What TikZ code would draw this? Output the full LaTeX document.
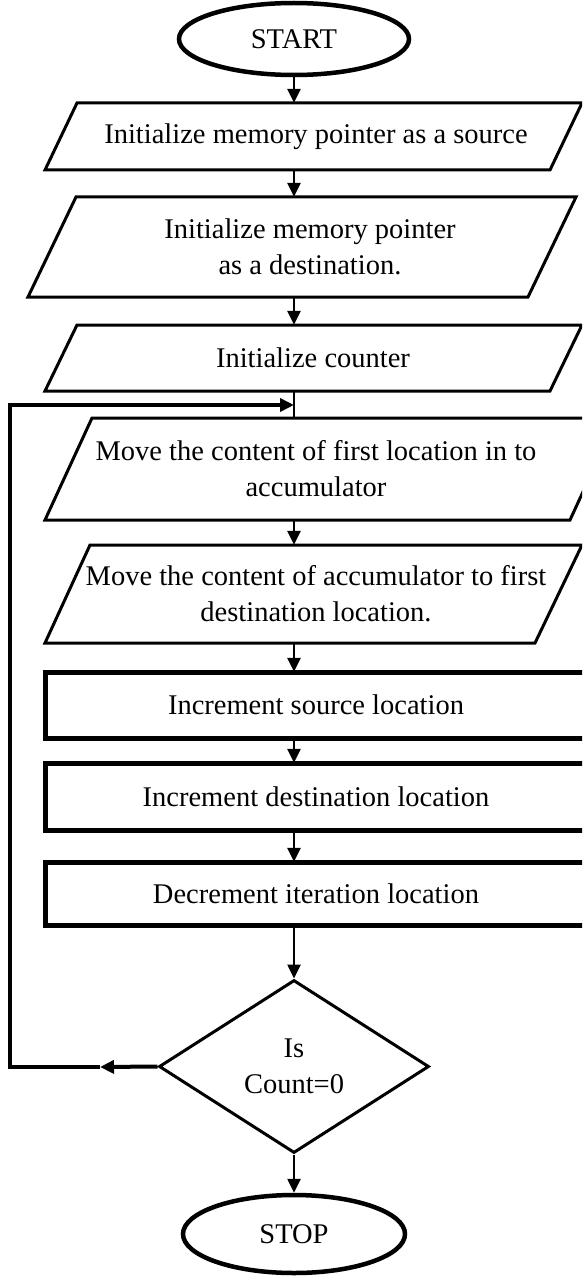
\documentclass[tikz,border=0pt]{standalone}
\usepackage{fontspec}
\setmainfont{Liberation Serif}
\usetikzlibrary{arrows.meta,shapes.geometric}
\begin{document}
\begin{tikzpicture}[x=1pt,y=-1pt,
  lbl/.style={inner sep=0pt, align=center, font=\fontsize{28.5}{36}\selectfont},
  term/.style={lbl, ellipse, draw, line width=4.5pt},
  decide/.style={lbl, diamond, draw, line width=3pt},
  io/.style={line width=3pt, line join=miter},
  proc/.style={line width=5pt},
  tip/.style={-{Triangle[length=14pt,width=13pt]}},
  arr/.style={line width=2.5pt, tip},
  flow/.style={line width=2.5pt},
  back/.style={line width=4pt, line join=miter},
]
\useasboundingbox (0,0) rectangle (582,1276);
\fill[white] (0,0) rectangle (582,1276);
\clip (0,0) rectangle (582,1276);

% terminals and decision
\node[term, minimum width=230, minimum height=72] (start) at (294,39) {START};
\node[decide, minimum width=270, minimum height=173] (dec) at (294,1066.5) {Is\\Count=0};
\node[term, minimum width=222, minimum height=78] (stop) at (294,1234) {STOP};

% input/output steps (parallelograms)
\draw[io] (77,103) -- (582,103) -- (550,170) -- (45,170) -- cycle;
\node[lbl, minimum height=67] (p1) at (316,136.5) {Initialize memory pointer as a source};

\draw[io] (76,197) -- (576,197) -- (528,297) -- (28,297) -- cycle;
\node[lbl, minimum height=100] (p2) at (310,247) {Initialize memory pointer\\as a destination.};

\draw[io] (77,325) -- (582,325) -- (550,391) -- (45,391) -- cycle;
\node[lbl, minimum height=66] (p3) at (313,358) {Initialize counter};

\draw[io] (92,418) -- (617,418) -- (570,520) -- (45,520) -- cycle;
\node[lbl, minimum height=102] (p4) at (316,469) {Move the content of first location in to\\accumulator};

\draw[io] (90,545) -- (582,545) -- (535,643) -- (45,643) -- cycle;
\node[lbl, minimum height=98] (p5) at (316,594) {Move the content of accumulator to first\\destination location.};

% processing steps (rectangles)
\draw[proc] (45,672) rectangle (610,738);
\node[lbl, minimum height=66] (r1) at (316,705) {Increment source location};

\draw[proc] (45,763) rectangle (610,830);
\node[lbl, minimum height=67] (r2) at (316,796.5) {Increment destination location};

\draw[proc] (45,862) rectangle (610,925);
\node[lbl, minimum height=63] (r3) at (316,893.5) {Decrement iteration location};

% main flow
\draw[arr] (start.south) -- (start.south |- p1.north);
\draw[arr] (start |- p1.south) -- (start |- p2.north);
\draw[arr] (start |- p2.south) -- (start |- p3.north);
\draw[flow] (start |- p3.south) -- (start |- p4.north);
\draw[arr] (start |- p4.south) -- (start |- p5.north);
\draw[arr] (start |- p5.south) -- (start |- r1.north);
\draw[arr] (start |- r1.south) -- (start |- r2.north);
\draw[arr] (start |- r2.south) -- (start |- r3.north);
\draw[arr] (start |- r3.south) -- (dec.north);
\draw[arr] (dec.south) -- (stop.north);

% loop back to the copy step
\coordinate (loopmid) at (100,1067);
\coordinate (lowcorner) at (10,1067);
\coordinate (highcorner) at (10,405);
\draw[back, tip] (dec.west) -- (loopmid);
\draw[back, tip] (loopmid) -- (lowcorner) -- (highcorner) -- (highcorner -| start);
\end{tikzpicture}
\end{document}
